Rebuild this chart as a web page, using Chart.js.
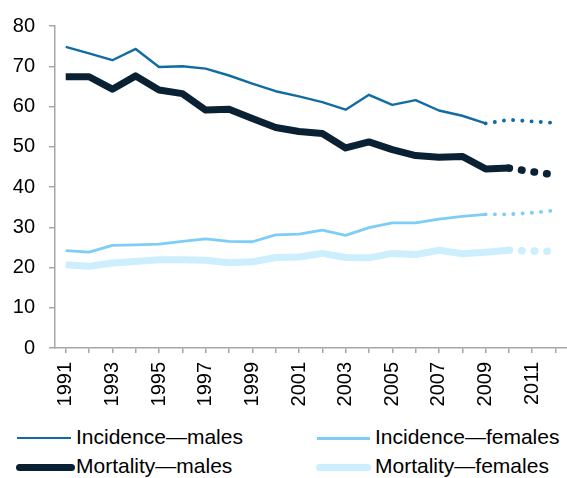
<!DOCTYPE html>
<html><head><meta charset="utf-8">
<script src="https://cdn.jsdelivr.net/npm/chart.js@4/dist/chart.umd.min.js"></script>
<style>
html,body{margin:0;padding:0;background:#fff;}
#wrap{position:relative;width:567px;height:478px;font-family:"Liberation Sans",Arial,sans-serif;overflow:hidden;}
#cw{position:absolute;left:0;top:0;width:567px;height:412px;}
.sw{position:absolute;}
.lt{position:absolute;font-size:21px;line-height:24px;color:#000;white-space:nowrap;}
</style></head>
<body>
<div id="wrap"><div id="cw"><canvas id="cv"></canvas></div><div id="legend"></div></div>
<script>
// ---- data ----
const years = [1991,1992,1993,1994,1995,1996,1997,1998,1999,2000,2001,2002,2003,2004,2005,2006,2007,2008,2009,2010,2011,2012];
const xTickLabels = ['1991','1993','1995','1997','1999','2001','2003','2005','2007','2009','2011'];
const yTickValues = [0,10,20,30,40,50,60,70,80];

// observed (from 1991)
const incidenceMales   = [74.8,73.2,71.5,74.3,69.8,70.0,69.4,67.7,65.7,63.8,62.5,61.1,59.2,62.9,60.4,61.6,59.0,57.7,55.8];
const incidenceFemales = [24.2,23.8,25.5,25.6,25.8,26.5,27.1,26.5,26.4,28.1,28.3,29.3,28.0,29.9,31.1,31.1,32.0,32.7,33.2];
const mortalityMales   = [67.4,67.4,64.3,67.6,64.1,63.2,59.1,59.3,57.0,54.8,53.8,53.3,49.7,51.2,49.3,47.8,47.4,47.6,44.5,44.7];
const mortalityFemales = [20.7,20.3,21.1,21.5,21.9,21.9,21.8,21.2,21.4,22.5,22.6,23.5,22.5,22.4,23.5,23.2,24.3,23.4,23.8,24.3];
// projected (years after the observed ones)
const incidenceMalesProj   = [56.7,56.3,55.9];
const incidenceFemalesProj = [33.2,33.6,34.2];
const mortalityMalesProj   = [43.8,43.0];
const mortalityFemalesProj = [24.1,24.0];

const seriesLabels = ['Incidence\u2014males','Incidence\u2014females','Mortality\u2014males','Mortality\u2014females'];
const colors = ['#126ca4','#7dcdf7','#0a2133','#cdeefc'];

// ---- build ----
function obs(arr){ return arr.map((v,i)=>({x:years[i], y:v})); }
function proj(obsArr, projArr){
  const n = obsArr.length;
  const pts = [{x:years[n-1], y:obsArr[n-1]}];
  projArr.forEach((v,i)=>pts.push({x:years[n+i], y:v}));
  return pts;
}
const widths = [2.4, 2.8, 7, 7];
const dotW   = [3.9, 3.9, 7.5, 7.5];
const dash   = [[0.1,9.15],[0.1,9.15],[0.5,12.2],[0.5,12.2]];
const obsList = [incidenceMales, incidenceFemales, mortalityMales, mortalityFemales];
const projList = [incidenceMalesProj, incidenceFemalesProj, mortalityMalesProj, mortalityFemalesProj];
const datasets = [];
obsList.forEach((arr,k)=>{
  datasets.push({label:seriesLabels[k], data:obs(arr), borderColor:colors[k], borderWidth:widths[k],
    pointRadius:0, tension:0, borderJoinStyle:'round', borderCapStyle:'butt', order:4-k});
  datasets.push({label:seriesLabels[k]+' (projected)', data:proj(arr, projList[k]), borderColor:colors[k], borderWidth:dotW[k],
    pointRadius:0, tension:0, borderDash:dash[k], borderCapStyle:'round', order:4-k});
});

Chart.defaults.font.family = '"Liberation Sans", Arial, sans-serif';
new Chart(document.getElementById('cv'), {
  type:'line',
  data:{datasets},
  options:{
    responsive:true, maintainAspectRatio:false, animation:false,
    layout:{padding:{top:21,right:0,left:0,bottom:0}},
    plugins:{legend:{display:false}, tooltip:{enabled:false}},
    scales:{
      x:{type:'linear', min:1990.54, max:2012.49,
        afterBuildTicks:(s)=>{ s.ticks = years.map(v=>({value:v})); },
        afterFit:(s)=>{ s.paddingRight=0; s.paddingLeft=0; s.height = 64; },
        ticks:{autoSkip:false, maxRotation:90, minRotation:90, padding:9, color:'#000', font:{size:20},
          callback:(v)=> xTickLabels.includes(String(v)) ? String(v) : ''},
        grid:{drawOnChartArea:false, drawTicks:true, tickLength:5, color:'#a6a6a6', lineWidth:1.5},
        border:{display:true, color:'#a6a6a6', width:1.5}
      },
      y:{type:'linear', min:0, max:80,
        afterBuildTicks:(s)=>{ s.ticks = yTickValues.map(v=>({value:v})); },
        afterFit:(s)=>{ s.width = 55; },
        ticks:{padding:14, color:'#000', font:{size:20}},
        grid:{drawOnChartArea:false, drawTicks:true, tickLength:6, color:'#a6a6a6', lineWidth:1.5},
        border:{display:true, color:'#a6a6a6', width:1.5}
      }
    }
  }
});

// ---- HTML legend ----
const legendPos = [
  {sx:17, sw:54, tx:76, row:0},
  {sx:317, sw:53, tx:375, row:0},
  {sx:16, sw:59, tx:76, row:1},
  {sx:316, sw:55, tx:375, row:1}
];
const rowLineY = [438.3, 467.7];
const rowTextTop = [424.5, 454];
const lg = document.getElementById('legend');
[0,1,2,3].forEach((k)=>{
  const p = legendPos[k];
  const h = widths[k];
  const sw = document.createElement('div');
  sw.className='sw';
  sw.style.left=p.sx+'px'; sw.style.width=p.sw+'px';
  sw.style.height=h+'px'; sw.style.top=(rowLineY[p.row]-h/2)+'px';
  sw.style.background=colors[k];
  if(h>4) sw.style.borderRadius=(h/2)+'px';
  lg.appendChild(sw);
  const t = document.createElement('div');
  t.className='lt'; t.textContent=seriesLabels[k];
  t.style.left=p.tx+'px'; t.style.top=rowTextTop[p.row]+'px';
  lg.appendChild(t);
});
</script>
</body></html>
